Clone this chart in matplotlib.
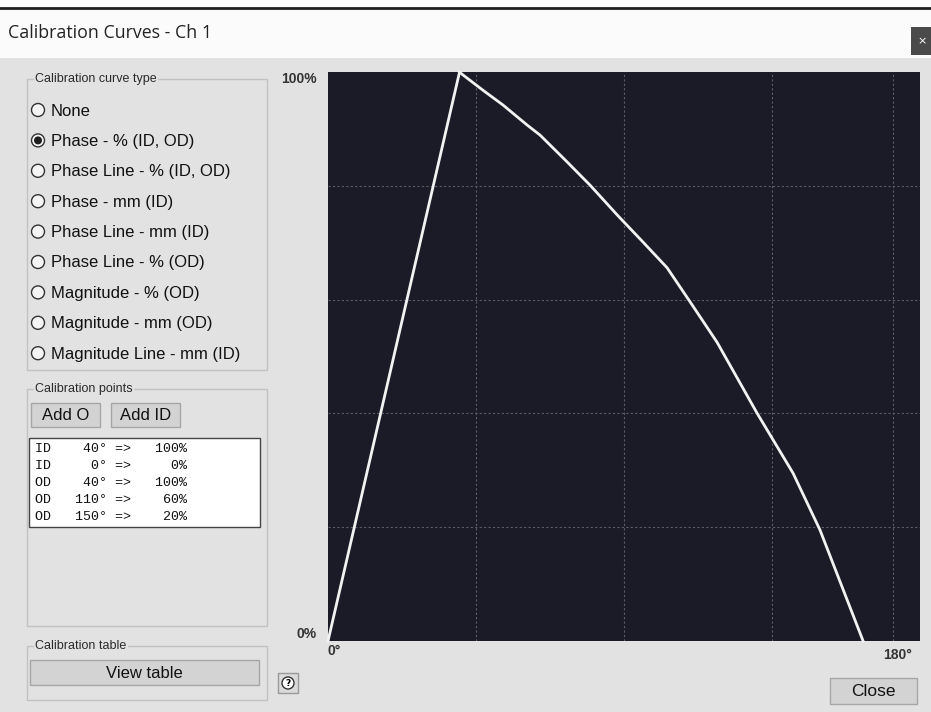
import matplotlib
matplotlib.use("Agg")
import matplotlib.pyplot as plt
from matplotlib.patches import Rectangle, Circle

W, H = 931, 712

# calibration points listed in the dialog
cal_side = ["ID", "ID", "OD", "OD", "OD"]
cal_deg = [40, 0, 40, 110, 150]
cal_pct = [100, 0, 100, 60, 20]

curve_types = ["None", "Phase - % (ID, OD)", "Phase Line - % (ID, OD)",
               "Phase - mm (ID)", "Phase Line - mm (ID)", "Phase Line - % (OD)",
               "Magnitude - % (OD)", "Magnitude - mm (OD)", "Magnitude Line - mm (ID)"]
selected_type = 1

# ID branch (straight) and OD branch (curve)
id_deg = [0, 40]
id_pct = [0, 100]
od_deg = [40, 41.0, 47.1, 53.2, 60.5, 64.5, 72.7, 79.7, 87.9, 95.8, 103.1, 110.1,
          118.3, 130.4, 141.4, 149.6, 162.7]
od_pct = [100, 99.5, 96.8, 94.2, 90.7, 88.9, 84.2, 80.1, 74.9, 70.1, 65.6, 59.6,
          52.5, 40.1, 29.5, 19.5, 0]

x_grid = [45, 90, 135, 171.8]
y_grid = [20, 40, 60, 80]

bg = "#e2e2e2"
ui_font = "Liberation Sans"

fig = plt.figure(figsize=(W / 100, H / 100), dpi=100)
fig.patch.set_facecolor(bg)

# overlay in pixel units for the dialog chrome
ui = fig.add_axes([0, 0, 1, 1])
ui.set_xlim(0, W)
ui.set_ylim(H, 0)
ui.axis("off")

# title bar
ui.add_patch(Rectangle((0, 0), W, 58, fc="#fbfbfb", ec="none"))
ui.plot([0, W], [8, 8], color="#1e1e1e", lw=2)
ui.text(8, 33, "Calibration Curves - Ch 1", fontsize=12.8, family="Open Sans",
        va="center", color="#222222")
ui.add_patch(Rectangle((911, 27), 22, 28, fc="#4a4a4a", ec="none"))
ui.text(922, 41, "×", color="white", fontsize=8, ha="center", va="center")


def group(x0, y0, x1, y1, label):
    ui.add_patch(Rectangle((x0, y0), x1 - x0, y1 - y0, fc="none", ec="#c2c2c2", lw=1))
    ui.text(x0 + 8, y0, label, fontsize=9, family=ui_font, va="center", color="#2a2a2a",
            bbox=dict(fc=bg, ec="none", pad=1))


def button(x0, y0, x1, y1, label, fs=12):
    ui.add_patch(Rectangle((x0, y0), x1 - x0, y1 - y0, fc="#d3d3d3", ec="#a6a6a6", lw=1))
    ui.text((x0 + x1) / 2, (y0 + y1) / 2 + 1, label, fontsize=fs, family=ui_font,
            ha="center", va="center", color="#111111")


# curve type radio group
group(27, 79, 267, 370, "Calibration curve type")
for i, label in enumerate(curve_types):
    y = 110 + i * 30.4
    ui.add_patch(Circle((38, y), 6.5, fc="#f4f4f4", ec="#333333", lw=1))
    if i == selected_type:
        ui.add_patch(Circle((38, y), 4, fc="#1e1e1e", ec="none"))
    ui.text(51, y + 1, label, fontsize=12, family=ui_font, va="center", color="#111111")

# calibration points group
group(27, 389, 267, 626, "Calibration points")
button(31, 403, 100, 427, "Add O")
button(111, 403, 180, 427, "Add ID")
ui.add_patch(Rectangle((29, 438), 231, 89, fc="white", ec="#444444", lw=1))
for i in range(len(cal_side)):
    line = f"{cal_side[i]}{cal_deg[i]:>6}° =>{cal_pct[i]:>6}%"
    ui.text(35, 449 + i * 17, line, fontsize=9.6, family="Liberation Mono",
            va="center", color="#111111")

# calibration table group
group(27, 646, 267, 700, "Calibration table")
button(30, 660, 259, 685, "View table")

# help and close buttons
ui.add_patch(Rectangle((278, 673), 20, 20, fc="#dadada", ec="#9a9a9a", lw=1))
ui.add_patch(Circle((288, 683), 6, fc="white", ec="#333333", lw=1))
ui.text(288, 683.5, "?", fontsize=6.5, weight="bold", ha="center", va="center")
button(830, 678, 917, 704, "Close", fs=12.5)

# the chart itself
ax = fig.add_axes([328 / W, (H - 641) / H, 592 / W, 569 / H])
ax.set_facecolor("#1b1b28")
ax.set_xlim(0, 180)
ax.set_ylim(0, 100)
ax.set_xticks([])
ax.set_yticks([])
for s in ax.spines.values():
    s.set_visible(False)
for gx in x_grid:
    ax.axvline(gx, color="#5c5c68", lw=0.8, ls=(0, (2, 2)))
for gy in y_grid:
    ax.axhline(gy, color="#5c5c68", lw=0.8, ls=(0, (2, 2)))

ax.plot(id_deg, id_pct, color="#f2f2f2", lw=2, clip_on=False)
ax.plot(od_deg, od_pct, color="#f2f2f2", lw=2, clip_on=False)

lab = dict(fontsize=10, family=ui_font, weight="bold", color="#333333")
ax.text(-0.019, 100, "100%", transform=ax.get_yaxis_transform(), ha="right", va="top", **lab)
ax.text(-0.019, 0, "0%", transform=ax.get_yaxis_transform(), ha="right", va="bottom", **lab)
ax.text(0, -0.006, "0°", transform=ax.get_xaxis_transform(), ha="left", va="top", **lab)
ax.text(177.6, -0.012, "180°", transform=ax.get_xaxis_transform(), ha="right", va="top", **lab)

fig.savefig("out.png", dpi=100, facecolor=fig.get_facecolor())
